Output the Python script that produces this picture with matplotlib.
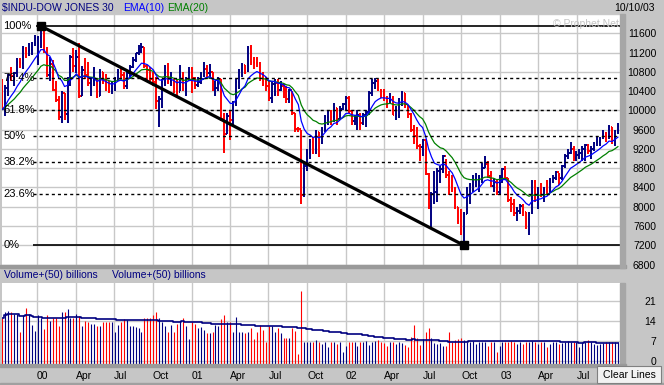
import numpy as np
import pandas as pd
import matplotlib
matplotlib.use('Agg')
import matplotlib.pyplot as plt
import matplotlib.dates as mdates
from matplotlib.patches import Rectangle

plt.rcParams['font.family'] = ['Liberation Sans', 'DejaVu Sans']

# weekly bars, week of 1999-10-11 .. week of 2003-10-06
weeks = pd.date_range('1999-10-11', periods=209, freq='7D')

close = [10019, 10470, 10730, 10704, 10770, 11003, 10989, 11286, 11224, 11257, 11405, 11497,
         11522, 11723, 11251, 10739, 10964, 10425, 10219, 9862, 10367, 9929, 10630, 11112,
         10922, 11111, 10306, 10844, 10734, 10577, 10610, 10627, 10300, 10794, 10614, 10449,
         10404, 10448, 10635, 10812, 10733, 10512, 10767, 10908, 11046, 11193, 11238, 11310,
         10927, 10847, 10651, 10596, 10193, 10227, 10591, 10817, 10602, 10630, 10470, 10374,
         10712, 10434, 10635, 10787,
         10662, 10525, 10587, 10659, 10864, 10781, 10799, 10441, 10466, 10644, 9823, 9504,
         9879, 9791, 10126, 10579, 10810, 10951, 10821, 11301, 11005, 10991, 10977, 10623,
         10604, 10502, 10252, 10540, 10577, 10417, 10512, 10416, 10240, 10423, 9950, 9606,
         9605, 8236, 8848, 9120, 9345, 9205, 9545, 9324, 9608, 9867, 9959, 9852,
         10049, 9812, 10035, 10136,
         10259, 9987, 9772, 9840, 9907, 9744, 9904, 9968, 10368, 10572, 10608, 10427,
         10404, 10271, 10190, 10257, 9910, 10007, 10115, 10353, 10105, 9925, 9590, 9475,
         9253, 9243, 9380, 8684, 8019, 8264, 8313, 8745, 8778, 9053, 8664, 8427,
         8380, 7986, 7701, 7528, 7850, 8322, 8444, 8518, 8537, 8579, 8804, 8896,
         8645, 8433, 8512, 8303,
         8601, 8785, 8587, 8131, 8053, 7864, 7909, 8018, 7891, 7740, 7859, 8522,
         8145, 8277, 8221, 8337, 8307, 8583, 8604, 8713, 8601, 8850, 9062, 9117,
         9201, 9011, 9070, 9119, 9188, 9284, 9153, 9191, 9321, 9348, 9416, 9503,
         9471, 9645, 9313, 9572, 9675]

high = [10650, 10530, 10760, 10900, 10800, 11090, 11090, 11330, 11320, 11400, 11420, 11570,
        11550, 11750, 11740, 11310, 11100, 11050, 10600, 10300, 10400, 10370, 10700, 11150,
        11300, 11250, 11400, 10930, 11080, 11000, 10700, 10900, 10650, 10850, 10800, 10750,
        10600, 10600, 10700, 10850, 10900, 10800, 10800, 10950, 11100, 11200, 11350, 11400,
        11320, 10950, 10900, 10800, 10700, 10300, 10650, 10950, 10990, 10800, 10650, 10650,
        10950, 10800, 10700, 10900,
        10900, 10700, 10700, 10800, 11000, 10950, 10970, 10800, 10600, 10700, 10650, 9950,
        9950, 10000, 10200, 10650, 10850, 10990, 10950, 11340, 11350, 11100, 11100, 11000,
        10800, 10700, 10600, 10600, 10650, 10650, 10600, 10550, 10500, 10450, 10400, 9950,
        9650, 9600, 8900, 9200, 9400, 9450, 9600, 9550, 9650, 9900, 10000, 10000,
        10150, 10050, 10100, 10150,
        10300, 10300, 10000, 9900, 10000, 9950, 9950, 10000, 10400, 10650, 10673, 10650,
        10450, 10450, 10300, 10350, 10300, 10100, 10250, 10400, 10350, 10100, 9950, 9700,
        9650, 9300, 9400, 9400, 8700, 8300, 8750, 8800, 8850, 9080, 9000, 8750,
        8650, 8400, 8000, 7950, 7900, 8400, 8500, 8650, 8700, 8650, 8900, 9050,
        8950, 8750, 8600, 8550,
        8650, 8800, 8850, 8600, 8200, 8150, 8000, 8050, 8050, 7900, 7900, 8550,
        8550, 8400, 8500, 8400, 8550, 8600, 8650, 8750, 8700, 8870, 9100, 9200,
        9350, 9250, 9150, 9200, 9250, 9300, 9300, 9250, 9350, 9450, 9450, 9600,
        9550, 9700, 9650, 9600, 9740]

low = [10000, 9885, 10300, 10600, 10500, 10700, 10880, 10850, 11080, 11130, 11140, 11340,
       10940, 11300, 11200, 10700, 10600, 10400, 10180, 9800, 9730, 9800, 9740, 10500,
       10800, 10780, 10250, 10300, 10650, 10500, 10300, 10500, 10250, 10300, 10550, 10400,
       10350, 10330, 10400, 10600, 10650, 10450, 10450, 10650, 10880, 11000, 11150, 11200,
       10880, 10600, 10600, 10500, 10030, 9654, 10050, 10500, 10550, 10500, 10350, 10250,
       10400, 10400, 10300, 10600,
       10350, 10450, 10480, 10550, 10700, 10700, 10650, 10400, 10300, 10400, 9780, 9106,
       9500, 9390, 9700, 10100, 10450, 10700, 10750, 10800, 10950, 10850, 10900, 10600,
       10500, 10400, 10200, 10150, 10300, 10300, 10400, 10250, 10150, 10150, 9900, 9560,
       9550, 8062, 8200, 8750, 9000, 9100, 9100, 9030, 9300, 9550, 9700, 9700,
       9750, 9700, 9800, 10000,
       10000, 9950, 9700, 9700, 9600, 9600, 9700, 9650, 9900, 10300, 10450, 10400,
       10250, 10200, 10050, 10150, 9900, 9800, 9850, 10100, 10050, 9850, 9550, 9300,
       9200, 8950, 9050, 8650, 7950, 7532, 8050, 8100, 8500, 8700, 8600, 8250,
       8300, 7950, 7650, 7420, 7197, 7850, 8050, 8300, 8400, 8300, 8500, 8800,
       8600, 8400, 8300, 8250,
       8250, 8500, 8550, 8100, 7900, 7800, 7700, 7850, 7800, 7530, 7416, 7850,
       8100, 7950, 8200, 8100, 8250, 8300, 8500, 8550, 8450, 8550, 8800, 9000,
       9100, 8950, 8950, 9000, 8950, 8950, 9100, 9000, 9150, 9250, 9250, 9400,
       9350, 9400, 9300, 9250, 9500]

volume = [15.0, 17.0, 17.5, 17.0, 16.6, 16.6, 10.3, 16.0, 18.4, 16.6, 12.6, 10.6, 16.0,
          14.9, 11.2, 16.0, 14.0, 15.0, 15.0, 12.3, 17.0, 17.3, 18.2, 15.0, 15.0, 16.5,
          15.6, 12.3, 14.0, 13.5, 12.8, 12.8, 12.2, 12.3, 13.5, 13.8, 13.8, 13.5, 10.0,
          12.6, 13.8, 14.7, 14.3, 12.4, 12.4, 12.0, 11.6, 10.3, 15.0, 15.0, 15.0, 16.0,
          17.0, 15.0, 13.8, 12.3, 10.3, 12.6, 10.3, 12.8, 14.0, 15.0, 12.3, 7.6, 13.5,
          12.8, 11.6, 11.8, 11.0, 9.7, 9.7, 10.3, 12.6, 12.3, 14.7, 16.0, 13.8, 13.8,
          10.3, 15.5, 10.3, 10.3, 9.7, 10.3, 11.6, 7.6, 10.3, 12.6, 11.0, 6.7, 12.3,
          12.3, 10.3, 11.6, 9.9, 8.0, 8.2, 8.2, 11.6, 10.5,
          2.5, 24.5,
          6.7, 6.7, 6.5, 6.7, 7.5, 6.7, 6.0, 6.7, 5.0, 6.7, 6.5, 6.0, 6.7, 3.0,
          5.3, 6.7, 6.7, 6.7, 5.3, 6.7, 6.7, 7.0, 5.5, 6.7, 7.0, 7.3, 6.7,
          6.2, 5.3, 6.7, 6.5, 5.8, 6.7, 6.2, 5.5, 5.0, 8.5, 12.6, 8.2, 5.6,
          7.7, 10.3, 11.7, 8.0, 6.3, 6.1, 6.3, 5.3, 5.3, 10.3, 6.7, 7.4, 7.7,
          8.2, 7.3, 6.7, 6.5, 7.0, 6.0, 6.7, 6.7, 6.7, 5.3, 6.7, 6.5, 3.0,
          5.3, 6.7, 6.7, 6.5, 7.0, 6.7, 6.0, 6.7, 5.8, 6.7, 6.7, 7.0, 6.5,
          6.0, 6.7, 6.5, 5.0, 6.0, 6.7, 6.7, 5.8, 6.2, 6.7, 7.0, 6.7, 6.7,
          6.5, 5.0, 6.7, 6.5, 7.2, 6.7, 6.0, 5.5, 5.8, 6.2, 6.7, 6.7, 6.7,
          6.5, 6.5]

fib_levels = [1.0, 0.764, 0.618, 0.5, 0.382, 0.236, 0.0]
fib_labels = ['100%', '76.4%', '61.8%', '50%', '38.2%', '23.6%', '0%']
quarter_labels = ['00', 'Apr', 'Jul', 'Oct', '01', 'Apr', 'Jul', 'Oct',
                  '02', 'Apr', 'Jul', 'Oct', '03', 'Apr', 'Jul']

NAVY = '#000080'
RED = '#ff0000'
GRID = '#c8c8c8'
PANEL = '#c6c6c6'

W, H = 664, 385


def px(x0, y0, w, h):
    return [x0 / W, 1 - (y0 + h) / H, w / W, h / H]


close = np.array(close, float)
high = np.array(high, float)
low = np.array(low, float)
opens = np.r_[high[0], close[:-1]]
colors = [NAVY if c >= o else RED for o, c in zip(opens, close)]
x = mdates.date2num(weeks)

ema10 = pd.Series(close).ewm(span=10, adjust=False).mean()
ema20 = pd.Series(close).ewm(span=20, adjust=False).mean()
vol_ma = pd.Series(volume).rolling(50, min_periods=1).mean()

qdates = pd.date_range('2000-01-01', '2003-07-01', freq='QS')
qx = mdates.date2num(qdates)
xlim = (mdates.date2num(pd.Timestamp('1999-10-10')), mdates.date2num(pd.Timestamp('2003-10-11')))

fig = plt.figure(figsize=(W / 100, H / 100), dpi=100, facecolor=PANEL)

# ---------------- price panel
ax = fig.add_axes(px(2, 14, 618, 251))
ax.set_facecolor('white')
ax.set_xlim(*xlim)
ax.set_ylim(6790, 11994)
for s in ax.spines.values():
    s.set_visible(False)
ax.set_xticks(qx)
ax.set_xticklabels([])
ax.set_yticks(np.arange(6800, 12001, 400))
ax.set_yticklabels([str(v) if v < 12000 else '' for v in range(6800, 12001, 400)])
ax.yaxis.tick_right()
ax.tick_params(axis='both', length=0)
ax.tick_params(axis='y', pad=26, labelsize=7.5)
for t in ax.get_yticklabels():
    t.set_ha('right')
ax.grid(True, color=GRID, lw=1)
ax.set_axisbelow(True)

tick = 3.0
ax.vlines(x, low, high, colors=colors, lw=1.4, zorder=2)
ax.hlines(opens, x - tick, x, colors=colors, lw=1.4, zorder=2)
ax.hlines(close, x, x + tick, colors=colors, lw=1.4, zorder=2)
ax.plot(x, ema20, color='#008000', lw=0.9, zorder=3)
ax.plot(x, ema10, color='#0000ff', lw=0.9, zorder=3)

# fibonacci retracement from the peak to the trough
i_hi, i_lo = int(np.argmax(high)), int(np.argmin(low))
top, bot = high[i_hi], low[i_lo]
fib_start = mdates.date2num(pd.Timestamp('1999-12-22'))
for lev, lab in zip(fib_levels, fib_labels):
    y = bot + lev * (top - bot)
    if lev in (0.0, 1.0):
        x0 = fib_start if lev == 0.0 else mdates.date2num(pd.Timestamp('1999-12-29'))
        ax.hlines(y, x0, xlim[1], color='black', lw=1.2, zorder=4)
    else:
        ax.hlines(y, fib_start, xlim[1], color='black', lw=1.0, linestyles=(0, (2.2, 2.2)), zorder=4)
    ax.text(0.002, y, lab, transform=ax.get_yaxis_transform(), fontsize=8,
            va='center', ha='left', color='black', zorder=5)
ax.plot([x[i_hi], x[i_lo]], [top, bot], color='black', lw=2.3, zorder=4,
        marker='s', markersize=6, solid_capstyle='butt')

# ---------------- volume panel
axv = fig.add_axes(px(2, 283, 618, 81))
axv.set_facecolor('white')
axv.set_xlim(*xlim)
axv.set_ylim(-1.05, 27.3)
for s in axv.spines.values():
    s.set_visible(False)
axv.vlines(x, -1.05, volume, colors=colors, lw=0.8, zorder=2)
axv.plot(x, vol_ma, color=NAVY, lw=1.2, drawstyle='steps-mid', zorder=3)
axv.set_yticks([0, 7, 14, 21])
axv.yaxis.tick_right()
axv.set_xticks(qx)
axv.set_xticklabels(quarter_labels)
axv.tick_params(axis='both', length=0, labelsize=7.5)
axv.tick_params(axis='y', pad=26)
axv.tick_params(axis='x', pad=5)
for t in axv.get_yticklabels():
    t.set_ha('right')
for t in axv.get_xticklabels():
    t.set_ha('left')
axv.grid(True, color=GRID, lw=1)
axv.set_axisbelow(True)

# ---------------- frame pieces
for (x0, y0, w, h, c) in [(0, 265, 626, 3, '#9a9a9a'), (620, 14, 5, 254, '#a6a6a6'),
                          (620, 283, 5, 82, '#a6a6a6'), (0, 364, 626, 3, '#9a9a9a'),
                          (0, 383, W, 2, '#a0a0a0')]:
    fig.patches.append(Rectangle((x0 / W, 1 - (y0 + h) / H), w / W, h / H,
                                 transform=fig.transFigure, color=c, zorder=0))
fig.patches.append(Rectangle((597 / W, 1 - 383 / H), 64 / W, 17 / H, transform=fig.transFigure,
                             facecolor='#f2f2f2', edgecolor='#808080', lw=0.8, zorder=5))
fig.text(629 / W, 1 - 375 / H, 'Clear Lines', fontsize=7.5, ha='center', va='center', zorder=6)

fig.text(2 / W, 1 - 8 / H, '$INDU-DOW JONES 30', fontsize=7.5, color=NAVY, va='center')
fig.text(123 / W, 1 - 8 / H, 'EMA(10)', fontsize=7.5, color='#0000ff', va='center')
fig.text(167 / W, 1 - 8 / H, 'EMA(20)', fontsize=7.5, color='#008000', va='center')
fig.text(655 / W, 1 - 8 / H, '10/10/03', fontsize=7.5, color='black', va='center', ha='right')
fig.text(553 / W, 1 - 24 / H, '© Prophet.Net', fontsize=7.5, color='#c4c4c4', va='center')
fig.text(4 / W, 1 - 275 / H, 'Volume+(50) billions', fontsize=7.5, color=NAVY, va='center')
fig.text(112 / W, 1 - 275 / H, 'Volume+(50) billions', fontsize=7.5, color=NAVY, va='center')

fig.savefig('out.png', dpi=100, facecolor=PANEL)
